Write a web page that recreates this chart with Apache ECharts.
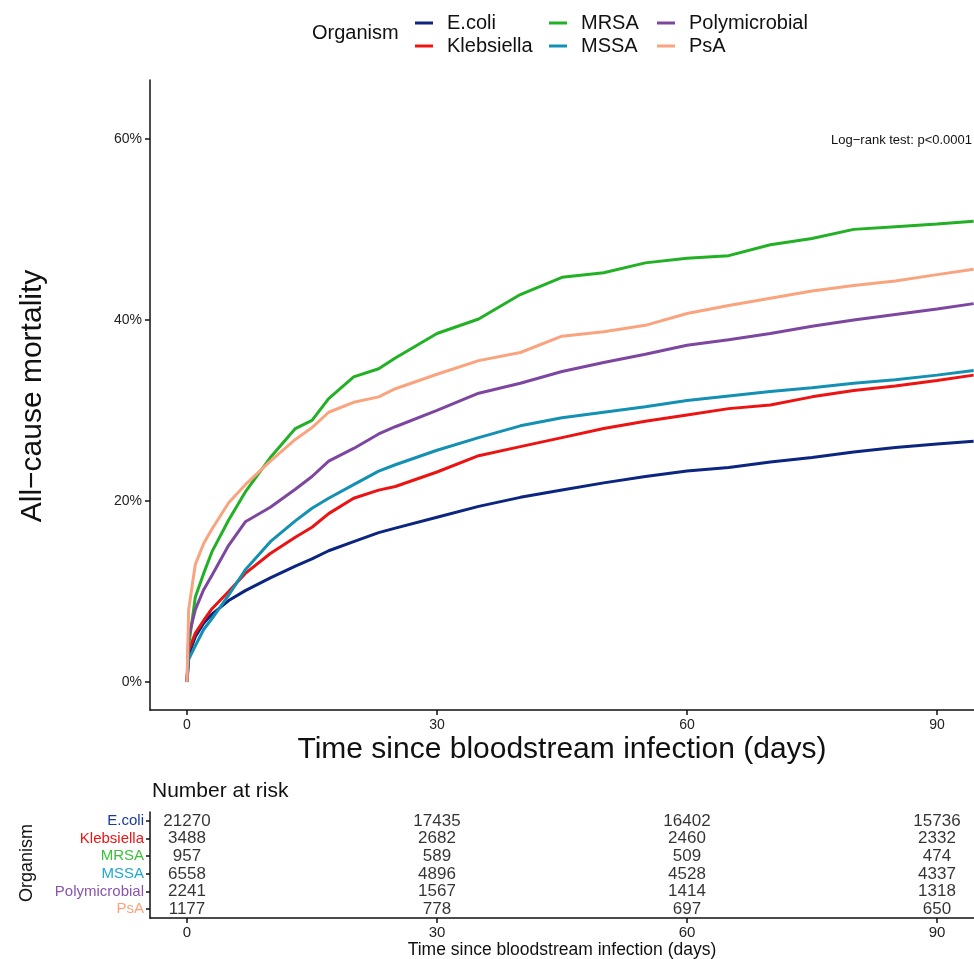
<!DOCTYPE html>
<html>
<head>
<meta charset="utf-8">
<script src="https://cdn.jsdelivr.net/npm/echarts@6/dist/echarts.min.js"></script>
<style>html,body{margin:0;padding:0;background:#fff;}#c{width:974px;height:959px;}</style>
</head>
<body>
<div id="c"></div>
<script>
// ---- data ----
const organisms = ['E.coli', 'Klebsiella', 'MRSA', 'MSSA', 'Polymicrobial', 'PsA'];
const days = [0, 0.2, 1, 2, 3, 5, 7, 10, 13, 15, 17, 20, 23, 25, 30, 35, 40, 45, 50, 55, 60, 65, 70, 75, 80, 85, 90, 94.4];
const ecoli =         [0, 3.0, 5.0, 6.5, 7.5, 9.0, 10.1, 11.5, 12.8, 13.6, 14.5, 15.5, 16.5, 17.0, 18.2, 19.4, 20.4, 21.2, 22.0, 22.7, 23.3, 23.7, 24.3, 24.8, 25.4, 25.9, 26.3, 26.6];
const klebsiella =    [0, 3.5, 5.4, 6.8, 8.1, 10.0, 12.0, 14.2, 16.0, 17.1, 18.6, 20.3, 21.2, 21.6, 23.2, 25.0, 26.0, 27.0, 28.0, 28.8, 29.5, 30.2, 30.6, 31.5, 32.2, 32.7, 33.3, 33.9];
const mrsa =          [0, 4.0, 9.4, 12.0, 14.4, 17.9, 21.0, 24.8, 28.0, 28.9, 31.3, 33.7, 34.6, 35.8, 38.5, 40.1, 42.8, 44.7, 45.2, 46.3, 46.8, 47.1, 48.3, 49.0, 50.0, 50.3, 50.6, 50.9];
const mssa =          [0, 2.5, 4.0, 5.8, 7.0, 9.6, 12.4, 15.5, 17.8, 19.2, 20.3, 21.8, 23.3, 24.0, 25.6, 27.0, 28.3, 29.2, 29.8, 30.4, 31.1, 31.6, 32.1, 32.5, 33.0, 33.4, 33.9, 34.4];
const polymicrobial = [0, 5.0, 8.0, 10.2, 11.8, 15.1, 17.7, 19.3, 21.3, 22.7, 24.4, 25.8, 27.4, 28.2, 30.0, 31.9, 33.0, 34.3, 35.3, 36.2, 37.2, 37.8, 38.5, 39.3, 40.0, 40.6, 41.2, 41.8];
const psa =           [0, 8.0, 13.0, 15.3, 16.9, 19.8, 21.8, 24.4, 26.8, 28.1, 29.8, 30.9, 31.5, 32.4, 34.0, 35.5, 36.4, 38.2, 38.7, 39.4, 40.7, 41.6, 42.4, 43.2, 43.8, 44.3, 45.0, 45.6];
const yTicks = [0, 20, 40, 60];
const xTicks = [0, 30, 60, 90];

const riskTimes = [0, 30, 60, 90];
const riskEcoli = [21270, 17435, 16402, 15736];
const riskKlebsiella = [3488, 2682, 2460, 2332];
const riskMrsa = [957, 589, 509, 474];
const riskMssa = [6558, 4896, 4528, 4337];
const riskPolymicrobial = [2241, 1567, 1414, 1318];
const riskPsa = [1177, 778, 697, 650];

// ---- style ----
const colors = ['#0b2580', '#ec1313', '#22b025', '#1390b2', '#7d47a0', '#f9a47e'];
const labelColors = ['#1a3a9a', '#ec1313', '#3cc03c', '#21a8cc', '#8a55ad', '#f9a47e'];
const FONT = '"Liberation Sans", Arial, sans-serif';

const curves = [ecoli, klebsiella, mrsa, mssa, polymicrobial, psa];
const risks = [riskEcoli, riskKlebsiella, riskMrsa, riskMssa, riskPolymicrobial, riskPsa];

const XMIN = -4.44, XMAX = 94.44;

const lineSeries = organisms.map((name, i) => ({
  name: name,
  type: 'line',
  xAxisIndex: 0, yAxisIndex: 0,
  data: days.map((d, k) => [d, curves[i][k]]),
  showSymbol: false,
  symbol: 'none',
  lineStyle: { color: colors[i], width: 3 },
  itemStyle: { color: colors[i] },
  z: 3,
  silent: true
}));

const riskData = [];
organisms.forEach((name, i) => {
  riskTimes.forEach((t, j) => riskData.push([t, i, risks[i][j]]));
});

const riskSeries = {
  type: 'scatter',
  xAxisIndex: 1, yAxisIndex: 1,
  data: riskData,
  symbolSize: 2,
  itemStyle: { color: 'rgba(0,0,0,0)' },
  label: {
    show: true, position: 'inside',
    formatter: p => String(p.value[2]),
    color: '#000', fontSize: 17, fontFamily: FONT
  },
  silent: true
};

const axisLineStyle = { color: '#111', width: 1.5 };

const legendBase = {
  orient: 'vertical',
  icon: 'rect',
  padding: 0,
  itemWidth: 18, itemHeight: 3,
  itemGap: 3,
  selectedMode: false,
  textStyle: { fontSize: 20, fontFamily: FONT, color: '#111', lineHeight: 20, padding: [0, 0, 0, 9] }
};

const option = {
  backgroundColor: '#fff',
  animation: false,
  color: colors,
  legend: [
    Object.assign({}, legendBase, { left: 415, top: 13, data: ['E.coli', 'Klebsiella'] }),
    Object.assign({}, legendBase, { left: 549, top: 13, data: ['MRSA', 'MSSA'] }),
    Object.assign({}, legendBase, { left: 657, top: 13, data: ['Polymicrobial', 'PsA'] })
  ],
  grid: [
    { left: 150, right: 0, top: 80, height: 630 },
    { left: 150, right: 0, top: 812, height: 106 }
  ],
  xAxis: [
    {
      gridIndex: 0, type: 'value', min: XMIN, max: XMAX,
      axisLine: { show: true, onZero: false, lineStyle: axisLineStyle },
      axisTick: { show: true, length: 5, lineStyle: axisLineStyle, customValues: xTicks },
      axisLabel: { fontSize: 14, color: '#222', fontFamily: FONT, margin: 8, customValues: xTicks },
      splitLine: { show: false }
    },
    {
      gridIndex: 1, type: 'value', min: XMIN, max: XMAX,
      axisLine: { show: true, onZero: false, lineStyle: axisLineStyle },
      axisTick: { show: true, length: 5, lineStyle: axisLineStyle, customValues: riskTimes },
      axisLabel: { fontSize: 15, color: '#222', fontFamily: FONT, margin: 7, customValues: riskTimes },
      splitLine: { show: false }
    }
  ],
  yAxis: [
    {
      gridIndex: 0, type: 'value', min: -3.09, max: 66.5,
      axisLine: { show: true, onZero: false, lineStyle: axisLineStyle },
      axisTick: { show: true, length: 5, lineStyle: axisLineStyle, customValues: yTicks },
      axisLabel: { fontSize: 14, color: '#222', fontFamily: FONT, margin: 8, customValues: yTicks, formatter: v => v + '%' },
      splitLine: { show: false }
    },
    {
      gridIndex: 1, type: 'category', data: organisms, inverse: true,
      axisLine: { show: true, onZero: false, lineStyle: axisLineStyle },
      axisTick: { show: true, length: 4, alignWithLabel: true, interval: 0, lineStyle: axisLineStyle },
      axisLabel: { fontSize: 15, fontFamily: FONT, margin: 6, interval: 0, color: (v, i) => labelColors[organisms.indexOf(v)] },
      splitLine: { show: false }
    }
  ],
  graphic: [
    { type: 'text', left: 312, top: 23, style: { text: 'Organism', fontSize: 20, fontFamily: FONT, fill: '#111' } },
    { type: 'text', x: 972, y: 140, style: { text: 'Log\u2212rank test: p<0.0001', fontSize: 13, fontFamily: FONT, fill: '#111', align: 'right', verticalAlign: 'middle' } },
    { type: 'text', x: 33, y: 396, rotation: Math.PI / 2, style: { text: 'All\u2212cause mortality', fontSize: 30, fontFamily: FONT, fill: '#111', align: 'center', verticalAlign: 'middle' } },
    { type: 'text', x: 562, y: 750, style: { text: 'Time since bloodstream infection (days)', fontSize: 30, fontFamily: FONT, fill: '#111', align: 'center', verticalAlign: 'middle' } },
    { type: 'text', x: 152, y: 791, style: { text: 'Number at risk', fontSize: 21, fontFamily: FONT, fill: '#111', align: 'left', verticalAlign: 'middle' } },
    { type: 'text', x: 27, y: 863, rotation: Math.PI / 2, style: { text: 'Organism', fontSize: 18, fontFamily: FONT, fill: '#111', align: 'center', verticalAlign: 'middle' } },
    { type: 'text', x: 562, y: 950, style: { text: 'Time since bloodstream infection (days)', fontSize: 17.5, fontFamily: FONT, fill: '#111', align: 'center', verticalAlign: 'middle' } }
  ],
  series: lineSeries.concat([riskSeries])
};

const chart = echarts.init(document.getElementById('c'), null, { renderer: 'canvas' });
chart.setOption(option);
</script>
</body>
</html>
